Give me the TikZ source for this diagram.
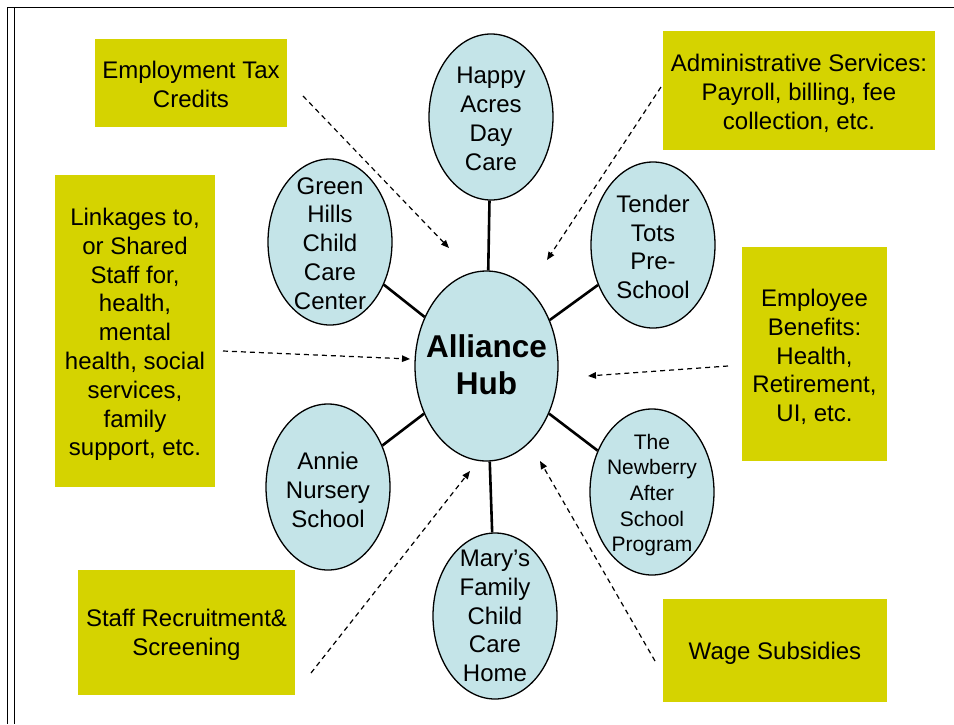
\documentclass[tikz,border=0pt]{standalone}
\usepackage{fontspec}
\setmainfont{Liberation Sans}
\usepackage{tikz}
\usetikzlibrary{positioning, arrows.meta, shapes.geometric, calc}

\definecolor{boxgreen}{RGB}{213,211,0}
\definecolor{siteblue}{RGB}{196,228,232}

\begin{document}
\begin{tikzpicture}[
    x=1pt, y=-1pt,
    site/.style={ellipse, draw, line width=1.3pt, fill=siteblue, inner sep=0pt,
                 minimum width=124pt, minimum height=166pt},
    hubnode/.style={site, minimum width=143pt, minimum height=190pt},
    sitetext/.style={align=center, inner sep=0pt, font=\fontsize{24}{28.8}\selectfont},
    servbox/.style={fill=boxgreen, inner sep=0pt, align=center,
                    font=\fontsize{24}{28.8}\selectfont},
    boxtext/.style={align=center, inner sep=0pt, font=\fontsize{24}{28.8}\selectfont},
    link/.style={line width=2.6pt},
    arr/.style={-{Triangle[length=8pt, width=6.5pt]}, dashed, line width=1.2pt,
                dash pattern=on 5pt off 4pt}
]
\useasboundingbox (0,0) rectangle (954,724);

% frame
\draw[line width=1.5pt] (954,7.5) -- (7.5,7.5) -- (7.5,724);
\draw[line width=1.5pt] (14.5,7.5) -- (14.5,724);

% service boxes
\node[servbox, minimum width=192pt, minimum height=88pt] (taxbox) at (191,83) {};
\node[servbox, minimum width=272pt, minimum height=119pt] (adminbox) at (799,90.5) {};
\node[servbox, minimum width=160pt, minimum height=312pt] (linkbox) at (135,331) {};
\node[servbox, minimum width=145pt, minimum height=214pt] (benefitbox) at (814.5,354) {};
\node[servbox, minimum width=217pt, minimum height=125pt] (staffbox) at (186.5,632.5) {};
\node[servbox, minimum width=224pt, minimum height=103pt] (wagebox) at (775,650.5) {};

\node[boxtext] (taxt) at ($(taxbox)+(0,1.5)$) {Employment Tax\\Credits};
\node[boxtext] (admint) at ($(adminbox)+(0,3)$)
    {Administrative Services:\\Payroll, billing, fee\\collection, etc.};
\node[boxtext] (linkt) at ($(linkbox)+(0,3.5)$)
    {Linkages to,\\or Shared\\Staff for,\\health,\\mental\\health, social\\services,\\family\\support, etc.};
\node[boxtext] (benefitt) at ($(benefitbox)+(0,3)$)
    {Employee\\Benefits:\\Health,\\Retirement,\\UI, etc.};
\node[boxtext] (stafft) at ($(staffbox)+(0,2.5)$) {Staff Recruitment\&\\Screening};
\node[boxtext] (waget) at ($(wagebox)+(0,3)$) {Wage Subsidies};

% hub and child care sites
\node[hubnode] (hub) at (486.5,366) {};
\node[site] (happy)    at (491,117) {};
\node[site] (green)    at (330,242) {};
\node[site] (tender)   at (653,245) {};
\node[site] (annie)    at (328,487) {};
\node[site] (newberry) at (652,492) {};
\node[site] (marys)    at (495,616) {};

\draw[link] (hub) -- (happy);
\draw[link] (hub) -- (green);
\draw[link] (hub) -- (tender);
\draw[link] (hub) -- (annie);
\draw[link] (hub) -- (newberry);
\draw[link] (hub) -- (marys);

\node[sitetext, font=\fontsize{31.5}{37}\selectfont\bfseries] (hubt) at ($(hub)+(0,-1)$) {Alliance\\Hub};
\node[sitetext] (happyt)  at ($(happy)+(0,2)$) {Happy\\Acres\\Day\\Care};
\node[sitetext] (greent)  at ($(green)+(0,1.5)$) {Green\\Hills\\Child\\Care\\Center};
\node[sitetext] (tendert) at ($(tender)+(0,2)$) {Tender\\Tots\\Pre-\\School};
\node[sitetext] (anniet)  at ($(annie)+(0,3)$) {Annie\\Nursery\\School};
\node[sitetext, font=\fontsize{21}{25.7}\selectfont] (newberryt) at ($(newberry)+(0,3)$)
    {The\\Newberry\\After\\School\\Program};
\node[sitetext] (maryst)  at (marys) {Mary’s\\Family\\Child\\Care\\Home};

% dashed service arrows
\coordinate (taxs) at (303,96);    \coordinate (taxe) at (449,248);
\coordinate (admins) at (661,87);  \coordinate (admine) at (547,260);
\coordinate (links) at (223,351);  \coordinate (linke) at (410,359);
\coordinate (bens) at (728,366);   \coordinate (bene) at (588,376);
\coordinate (staffs) at (311,673); \coordinate (staffe) at (470,471);
\coordinate (wages) at (655,661);  \coordinate (wagee) at (540,461);

\draw[arr] (taxs) -- (taxe);
\draw[arr] (admins) -- (admine);
\draw[arr] (links) -- (linke);
\draw[arr] (bens) -- (bene);
\draw[arr] (staffs) -- (staffe);
\draw[arr] (wages) -- (wagee);

\end{tikzpicture}
\end{document}
